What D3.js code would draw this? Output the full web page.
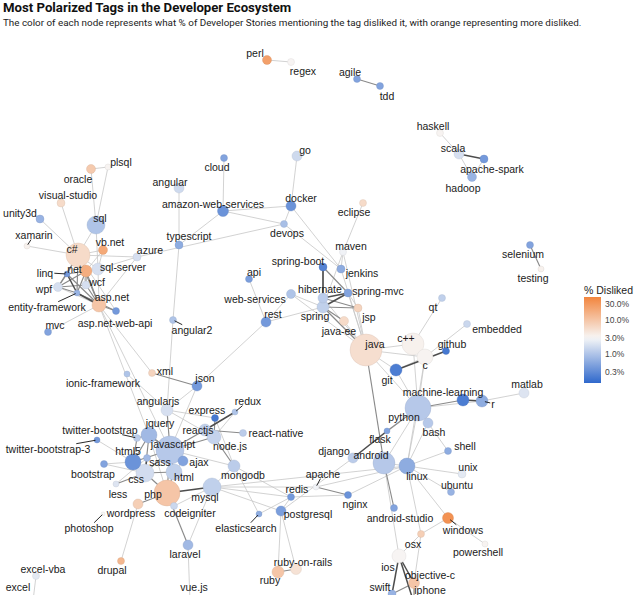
<!DOCTYPE html>
<html>
<head>
<meta charset="utf-8">
<script src="https://cdn.jsdelivr.net/npm/d3@7"></script>
<style>
  body { margin: 0; background: #fff; }
  svg { display: block; }
</style>
</head>
<body>
<div id="chart"></div>
<script>
const width = 640, height = 595;

const title = "Most Polarized Tags in the Developer Ecosystem";
const subtitle = "The color of each node represents what % of Developer Stories mentioning the tag disliked it, with orange representing more disliked.";

// tag, layout x, layout y, developer stories, % disliked
const tags = [
  ["perl",267,60,2100,25], ["regex",291,62,1270,3.2], ["agile",357,79,1270,0.5], ["tdd",380,86,1270,0.5],
  ["haskell",440,133,1270,3.3], ["scala",459,154,2600,1.8], ["apache-spark",484,159,1660,0.4], ["hadoop",472,177,2100,0.7],
  ["go",297,156,2600,1.6], ["cloud",224,158,1270,0.5], ["angular",179,188,2600,1.6], ["amazon-web-services",223,211,3140,0.35],
  ["docker",291,206,2600,0.35], ["devops",284,224,1270,0.9], ["eclipse",363,203,1270,6], ["typescript",179,245,1660,0.6],
  ["selenium",530,245,1270,0.5], ["testing",541,269,935,3.5], ["plsql",108,167,935,3.3], ["oracle",91,169,2100,9],
  ["visual-studio",61,203,1660,6], ["unity3d",40,219,1660,0.7], ["sql",96,225,8410,1.0], ["xamarin",27,246,935,3.5],
  ["c#",78,255,14950,6], ["vb.net",103,250,2100,20], ["azure",137,257,1660,1.8], [".net",86,271,3740,18],
  ["sql-server",98,269,3740,1.8], ["linq",67,274,935,0.4], ["wcf",86,285,1660,1.8], ["wpf",58,287,2100,1.8],
  ["entity-framework",77,293,935,0.7], ["asp.net",99,305,5090,10], ["asp.net-web-api",116,311,1270,0.4], ["mvc",48,332,1270,0.5],
  ["angular2",173,320,1270,1.0], ["maven",343,252,1270,2.7], ["spring-boot",323,267,1660,0.25], ["jenkins",341,269,1660,0.6],
  ["api",249,279,1270,0.45], ["hibernate",323,298,2600,1.2], ["spring-mvc",348,293,1660,0.5], ["web-services",291,294,2100,1.0],
  ["spring",323,307,3740,1.3], ["jsp",358,308,1660,7], ["rest",266,322,2600,0.4], ["java-ee",344,321,2100,6],
  ["java",366,350,26570,5.5], ["qt",442,298,1270,1.3], ["embedded",467,324,1270,1.5], ["c++",413,344,12560,3.5],
  ["github",446,351,1270,0.2], ["c",425,357,6640,3.3], ["git",396,370,3740,0.22], ["machine-learning",463,400,3740,0.22],
  ["r",482,401,3740,0.6], ["matlab",524,393,2600,2.0], ["python",418,408,17540,1.1], ["bash",428,423,2600,1.1],
  ["flask",387,431,935,0.5], ["shell",448,451,1270,0.6], ["django",353,458,2600,1.2], ["android",384,463,12560,1.1],
  ["linux",407,466,6640,0.6], ["unix",462,474,1660,2.2], ["ubuntu",451,492,1270,0.7], ["android-studio",394,508,1270,0.5],
  ["windows",448,518,3140,35], ["powershell",485,544,935,3.3], ["osx",421,534,1270,8], ["ios",399,556,5090,3.2],
  ["objective-c",414,583,3140,10], ["swift",392,594,1660,0.7], ["iphone",414,603,1660,9], ["xml",152,373,1270,7],
  ["ionic-framework",127,374,935,1.0], ["json",197,386,2600,0.4], ["angularjs",167,410,3740,1.8], ["express",215,418,1270,0.2],
  ["redux",235,412,935,1.0], ["jquery",149,435,6640,0.8], ["reactjs",205,430,3740,1.3], ["node.js",214,437,5090,1.4],
  ["react-native",243,433,1270,1.2], ["twitter-bootstrap",137,438,1270,1.2], ["twitter-bootstrap-3",97,440,935,0.4], ["javascript",170,450,20350,1.1],
  ["html5",133,462,6640,0.35], ["sass",147,458,1270,0.8], ["ajax",183,461,2600,0.5], ["bootstrap",104,464,1270,0.5],
  ["css",145,473,8410,1.7], ["html",174,472,6640,1.3], ["less",116,484,935,2.0], ["php",167,493,17540,10],
  ["mysql",212,487,8410,1.3], ["mongodb",234,466,3740,1.2], ["wordpress",138,504,2600,8], ["codeigniter",174,506,1270,1.5],
  ["photoshop",103,514,415,3], ["laravel",188,545,2600,0.8], ["drupal",121,561,1270,14], ["excel-vba",36,576,1270,2.2],
  ["excel",33,601,1270,2.5], ["vue.js",190,602,1660,1.5], ["apache",316,487,935,2.7], ["redis",291,497,1270,0.4],
  ["nginx",348,495,1270,0.35], ["postgresql",281,511,2600,0.45], ["elasticsearch",259,514,935,0.6], ["ruby-on-rails",296,569,3140,5],
  ["ruby",278,572,3740,10]
];

// repelled label positions (layout units)
const labelPos = {
  "perl":[255,53], "regex":[303,71], "agile":[350,72], "tdd":[387,96], "haskell":[433,126], "scala":[453,148],
  "apache-spark":[492,169], "hadoop":[463,188], "go":[305,150], "cloud":[217,167], "angular":[170,182],
  "amazon-web-services":[213,204], "docker":[301,198], "devops":[287,233], "eclipse":[354,212], "typescript":[189,236],
  "selenium":[523,254], "testing":[533,278], "plsql":[121,162], "oracle":[78,179], "visual-studio":[68,195],
  "unity3d":[20,213], "sql":[100,218], "xamarin":[34,235], "c#":[72,249], "vb.net":[110,242], "azure":[150,250],
  ".net":[73,269], "sql-server":[123,267], "linq":[45,273], "wcf":[97,282], "wpf":[44,289], "entity-framework":[47,307],
  "asp.net":[112,297], "asp.net-web-api":[115,323], "mvc":[55,325], "angular2":[192,330], "maven":[351,246],
  "spring-boot":[298,261], "jenkins":[362,273], "api":[254,272], "hibernate":[320,289], "spring-mvc":[378,291],
  "web-services":[255,299], "spring":[315,316], "jsp":[369,317], "rest":[273,314], "java-ee":[339,331], "java":[375,344],
  "qt":[433,307], "embedded":[497,329], "c++":[406,338], "github":[452,344], "c":[425,365], "git":[387,380],
  "machine-learning":[443,392], "r":[493,404], "matlab":[527,384], "python":[404,417], "bash":[434,432], "flask":[380,439],
  "shell":[465,446], "django":[334,451], "android":[371,455], "linux":[417,476], "unix":[468,467], "ubuntu":[457,485],
  "android-studio":[400,518], "windows":[463,530], "powershell":[478,552], "osx":[413,544], "ios":[388,567],
  "objective-c":[430,575], "swift":[380,587], "iphone":[430,590], "xml":[165,371], "ionic-framework":[103,383],
  "json":[205,378], "angularjs":[158,401], "express":[207,410], "redux":[248,401], "jquery":[160,423], "reactjs":[198,430],
  "node.js":[230,446], "react-native":[276,433], "twitter-bootstrap":[100,430], "twitter-bootstrap-3":[48,449],
  "javascript":[173,444], "html5":[128,451], "sass":[160,462], "ajax":[199,462], "bootstrap":[93,474], "css":[136,479],
  "html":[184,477], "less":[118,494], "php":[153,494], "mysql":[205,497], "mongodb":[243,475], "wordpress":[131,513],
  "codeigniter":[190,513], "photoshop":[89,528], "laravel":[185,554], "drupal":[112,570], "excel-vba":[43,569],
  "excel":[18,587], "vue.js":[194,587], "apache":[323,474], "redis":[297,489], "nginx":[355,504], "postgresql":[308,514],
  "elasticsearch":[246,528], "ruby-on-rails":[303,562], "ruby":[270,580]
};

// labels pushed far enough to get a segment back to their node
const leaderTags = ["xamarin","linq","entity-framework","angular2","twitter-bootstrap","twitter-bootstrap-3",
  "r","apache","photoshop","windows","elasticsearch","ruby","redux"];

// source, target, correlation strength (1 weak .. 3 strong)
const links = [
  ["c#",".net",2],["c#","asp.net",2],["c#","sql-server",1],["c#","wpf",2],["c#","linq",2],["c#","wcf",1],
  ["c#","entity-framework",2],["c#","xamarin",1],["c#","unity3d",1],["c#","visual-studio",1],["c#","azure",1],
  ["c#","vb.net",1],["c#","sql",1],["c#","asp.net-web-api",1],
  [".net","asp.net",2],[".net","wpf",2],[".net","wcf",2],[".net","linq",2],[".net","entity-framework",2],
  [".net","vb.net",1],[".net","sql-server",1],
  ["asp.net","sql-server",1],["asp.net","mvc",1],["asp.net","asp.net-web-api",2],["asp.net","entity-framework",3],
  ["asp.net","linq",2],["asp.net","wcf",2],["asp.net","wpf",1],["asp.net","jquery",1],["asp.net","javascript",1],
  ["asp.net","azure",1],["asp.net","xml",1],
  ["sql","oracle",1],["sql","plsql",1],["oracle","plsql",1],["sql","sql-server",1],["sql-server","vb.net",1],
  ["asp.net-web-api","entity-framework",2],["wpf","wcf",2],["linq","entity-framework",3],["wpf","linq",2],
  ["wpf","entity-framework",2],["sql-server","azure",1],
  ["perl","regex",1],["agile","tdd",2],["haskell","scala",1],["scala","apache-spark",3],["apache-spark","hadoop",1],
  ["scala","hadoop",1],["selenium","testing",2],
  ["amazon-web-services","cloud",1],["amazon-web-services","docker",1],["amazon-web-services","devops",1],
  ["amazon-web-services","typescript",1],["azure","devops",1],["docker","go",1],["docker","devops",1],
  ["docker","jenkins",1],["devops","jenkins",1],["angular","typescript",1],["typescript","angular2",1],
  ["angular2","angularjs",1],
  ["eclipse","maven",1],["maven","java",1],["maven","spring",1],["maven","jenkins",1],["spring-boot","spring",3],
  ["spring-boot","spring-mvc",2],["spring-boot","hibernate",2],["spring","hibernate",3],["spring","spring-mvc",3],
  ["hibernate","spring-mvc",3],["spring","jsp",2],["spring","java-ee",2],["spring","java",2],["hibernate","java",1],
  ["spring-mvc","java",1],["jsp","java",1],["java-ee","java",1],["hibernate","jsp",2],["spring-mvc","jsp",1],
  ["web-services","spring",1],["web-services","rest",1],["rest","api",1],["rest","json",1],["rest","spring",1],
  ["web-services","java",1],["jenkins","java",1],
  ["java","c++",1],["java","c",1],["java","git",1],["java","android",2],["java","python",1],["c++","c",2],
  ["c++","qt",1],["c","embedded",1],["git","github",3],["c++","python",1],["c","linux",1],["c","python",1],
  ["git","python",1],["git","c",1],
  ["python","machine-learning",2],["machine-learning","r",3],["r","matlab",1],["python","r",1],["python","bash",1],
  ["python","django",1],["flask","python",2],["flask","django",3],["python","linux",1],["bash","linux",1],
  ["bash","shell",1],["linux","shell",1],["linux","unix",1],["linux","ubuntu",1],["linux","windows",1],
  ["linux","osx",1],["linux","android",1],["android","android-studio",2],["android","ios",1],["python","android",1],
  ["mysql","linux",1],["apache","linux",1],["nginx","linux",1],["nginx","apache",2],["mysql","apache",1],
  ["redis","mongodb",1],["redis","nginx",1],["redis","mysql",1],["redis","postgresql",1],
  ["postgresql","mysql",1],["postgresql","ruby-on-rails",1],["postgresql","ruby",1],["postgresql","django",1],
  ["ruby","ruby-on-rails",2],["elasticsearch","mongodb",1],["elasticsearch","redis",1],
  ["osx","ios",1],["osx","windows",1],["windows","powershell",1],["ios","objective-c",3],["ios","swift",3],
  ["ios","iphone",3],["objective-c","iphone",2],["swift","objective-c",2],["osx","objective-c",1],
  ["javascript","jquery",2],["javascript","html5",2],["javascript","css",2],["javascript","html",2],
  ["javascript","angularjs",2],["javascript","reactjs",2],["javascript","node.js",2],["javascript","ajax",2],
  ["javascript","php",2],["javascript","json",1],["jquery","html5",2],["jquery","css",2],["jquery","ajax",2],
  ["jquery","twitter-bootstrap",2],["html5","css",3],["html5","twitter-bootstrap",2],["html5","bootstrap",1],
  ["html5","twitter-bootstrap-3",1],["css","html",2],["css","bootstrap",1],["css","less",2],["css","sass",3],
  ["css","php",2],["html","php",2],["php","mysql",3],["php","wordpress",2],["php","codeigniter",2],
  ["php","laravel",2],["laravel","vue.js",1],["mysql","codeigniter",1],["wordpress","drupal",1],
  ["angularjs","ionic-framework",1],["angularjs","node.js",1],["angularjs","express",1],["reactjs","redux",3],
  ["reactjs","react-native",2],["node.js","express",2],["node.js","mongodb",2],["express","mongodb",1],
  ["mongodb","mysql",1],["angularjs","json",1],["xml","json",2],["javascript","mongodb",1],["node.js","redux",1],
  ["laravel","mysql",1],["php","jquery",1],["sass","less",1],["html","ajax",1],["excel-vba","excel",1]
];

const legendTicks = [30, 10, 3, 1, 0.3];

// ---- scales
const x = d3.scaleLinear().domain([0, 640]).range([0, width]);
const y = d3.scaleLinear().domain([0, 595]).range([0, height]);
const r = d3.scaleSqrt().domain([0, 30000]).range([0, 17]);
const color = d3.scaleLog()
  .domain([0.14, 3, 48])
  .range(["#2f68cc", "#f7f7f7", "#f2853e"])
  .interpolate(d3.interpolateRgb)
  .clamp(true);
const linkWidth = d3.scaleLinear().domain([1, 3]).range([0.8, 1.5]);
const linkColor = d3.scaleLinear().domain([1, 3]).range(["#c6c6c6", "#4d4d4d"]);

const nodes = tags.map(d => ({ tag: d[0], lx: d[1], ly: d[2], stories: d[3], disliked: d[4] }));
const byTag = new Map(nodes.map(d => [d.tag, d]));
const edges = links.map(d => ({ source: byTag.get(d[0]), target: byTag.get(d[1]), w: d[2] }))
  .filter(d => d.source && d.target)
  .sort((a, b) => a.w - b.w);

const svg = d3.select("#chart").append("svg")
  .attr("width", width)
  .attr("height", height)
  .style("background-color", "white");

// title + subtitle
svg.append("text")
  .attr("x", 3).attr("y", 12)
  .style("font-family", "Roboto, 'Liberation Sans', sans-serif")
  .style("font-weight", "bold")
  .style("font-size", "13.2px")
  .attr("fill", "#111")
  .text(title);
svg.append("text")
  .attr("x", 3).attr("y", 26)
  .style("font-family", "Roboto, 'Liberation Sans', sans-serif")
  .style("font-size", "9.85px")
  .attr("fill", "#222")
  .text(subtitle);

const plot = svg.append("g");

// edges
plot.append("g").selectAll("line")
  .data(edges)
  .enter().append("line")
  .attr("x1", d => x(d.source.lx)).attr("y1", d => y(d.source.ly))
  .attr("x2", d => x(d.target.lx)).attr("y2", d => y(d.target.ly))
  .attr("stroke", d => linkColor(d.w))
  .attr("stroke-width", d => linkWidth(d.w));

// nodes, small ones on top
plot.append("g").selectAll("circle")
  .data(nodes.slice().sort((a, b) => b.stories - a.stories))
  .enter().append("circle")
  .attr("cx", d => x(d.lx)).attr("cy", d => y(d.ly))
  .attr("r", d => r(d.stories))
  .attr("fill", d => color(d.disliked))
  .attr("stroke", d => d3.color(color(d.disliked)).darker(0.4))
  .attr("stroke-width", 0.35);

// labels
const labelG = plot.append("g");
const labels = labelG.selectAll("text")
  .data(nodes.filter(d => labelPos[d.tag]))
  .enter().append("text")
  .attr("x", d => x(labelPos[d.tag][0]))
  .attr("y", d => y(labelPos[d.tag][1]))
  .attr("text-anchor", "middle")
  .attr("dy", "0.35em")
  .style("font-family", "'Liberation Sans', Arial, sans-serif")
  .style("font-size", "10.5px")
  .attr("fill", "#1a1a1a")
  .text(d => d.tag);

// leader segments from label box to node
labels.each(function (d) {
  if (!leaderTags.includes(d.tag)) return;
  const b = this.getBBox();
  const cx = b.x + b.width / 2, cy = b.y + b.height / 2;
  const nx = x(d.lx), ny = y(d.ly);
  const dx = nx - cx, dy = ny - cy;
  const tx = dx === 0 ? Infinity : (b.width / 2 + 1) / Math.abs(dx);
  const ty = dy === 0 ? Infinity : (b.height / 2 - 1) / Math.abs(dy);
  const t = Math.min(tx, ty);
  const sx = cx + dx * t, sy = cy + dy * t;
  const len = Math.hypot(nx - sx, ny - sy);
  const rr = r(d.stories);
  if (len <= rr + 1) return;
  const ex = nx - (nx - sx) / len * rr * 0.5, ey = ny - (ny - sy) / len * rr * 0.5;
  labelG.insert("line", "text")
    .attr("x1", sx).attr("y1", sy).attr("x2", ex).attr("y2", ey)
    .attr("stroke", "#111").attr("stroke-width", 0.9);
});

// legend
const legendScale = d3.scaleLog().domain([48, 0.14]).range([297, 383]);
const defs = svg.append("defs");
const grad = defs.append("linearGradient")
  .attr("id", "dislikeGrad")
  .attr("x1", 0).attr("y1", 0).attr("x2", 0).attr("y2", 1);
d3.range(0, 21).forEach(i => {
  const v = Math.exp(Math.log(48) + (Math.log(0.14) - Math.log(48)) * i / 20);
  grad.append("stop").attr("offset", `${i * 5}%`).attr("stop-color", color(v));
});

const legend = svg.append("g");
legend.append("text")
  .attr("x", 584).attr("y", 294)
  .style("font-family", "'Liberation Sans', Arial, sans-serif")
  .style("font-size", "10.5px")
  .attr("fill", "#222")
  .text("% Disliked");
legend.append("rect")
  .attr("x", 584).attr("y", legendScale.range()[0])
  .attr("width", 17).attr("height", legendScale.range()[1] - legendScale.range()[0])
  .attr("fill", "url(#dislikeGrad)");
legend.selectAll(".tick")
  .data(legendTicks)
  .enter().append("text")
  .attr("x", 605)
  .attr("y", d => legendScale(d))
  .attr("dy", "0.35em")
  .style("font-family", "'Liberation Sans', Arial, sans-serif")
  .style("font-size", "8.5px")
  .attr("fill", "#444")
  .text(d => d.toFixed(1) + "%");
</script>
</body>
</html>
